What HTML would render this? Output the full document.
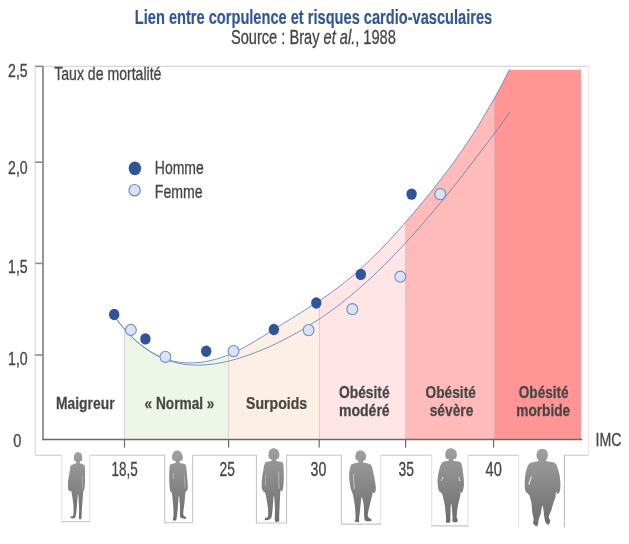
<!DOCTYPE html>
<html lang="fr"><head><meta charset="utf-8"><title>Lien entre corpulence et risques cardio-vasculaires</title>
<style>
html,body{margin:0;padding:0;background:#fff;}
body{width:629px;height:544px;overflow:hidden;}
svg{display:block;font-family:"Liberation Sans",Arial,sans-serif;}
</style></head><body>
<svg width="629" height="544" viewBox="0 0 629 544">
<defs>
<linearGradient id="gsil" x1="0" y1="0" x2="0" y2="1"><stop offset="0" stop-color="#a0a0a0"/><stop offset="1" stop-color="#6c6c6c"/></linearGradient>
<filter id="soft" x="0" y="0" width="629" height="544" filterUnits="userSpaceOnUse"><feGaussianBlur stdDeviation="0.6"/></filter>
</defs>
<rect width="629" height="544" fill="#fff"/>
<g filter="url(#soft)">
<text transform="translate(134.80,23.50) scale(0.7133,1)" font-size="20.5" font-weight="bold" fill="#31589B" stroke="#31589B" stroke-width="0.2">Lien entre corpulence et risques cardio-vasculaires</text>
<text transform="translate(230.90,43.70) scale(0.7465,1)" font-size="19.6" font-weight="normal" fill="#464646" stroke="#464646" stroke-width="0.32">Source : Bray <tspan font-style="italic">et al.</tspan>, 1988</text>
<line x1="35.2" y1="66.3" x2="588.5" y2="66.3" stroke="#cbcbcb" stroke-width="1.1"/>
<line x1="35.2" y1="455.3" x2="588.5" y2="455.3" stroke="#c6c6c6" stroke-width="1.1"/>
<line x1="35.2" y1="66.3" x2="35.2" y2="455.3" stroke="#dedede" stroke-width="1.3"/>
<line x1="588.5" y1="66.3" x2="588.5" y2="455.3" stroke="#e8e8e8" stroke-width="1.3"/>
<polygon points="124.4,439.5 124.4,328.8 127.1,331.8 129.7,334.6 132.4,337.3 135.1,339.9 137.7,342.3 140.4,344.5 143.1,346.6 145.8,348.5 148.4,350.4 151.1,352.0 153.8,353.6 156.4,355.0 159.1,356.3 161.8,357.4 164.4,358.5 167.1,359.4 169.8,360.2 172.4,360.9 175.1,361.5 177.8,362.0 180.5,362.3 183.1,362.6 185.8,362.8 188.5,362.9 191.1,362.9 193.8,362.8 196.5,362.7 199.1,362.4 201.8,362.1 204.5,361.7 207.1,361.3 209.8,360.7 212.5,360.1 215.2,359.4 217.8,358.6 220.5,357.8 223.2,356.9 225.8,355.9 228.5,354.8 228.5,439.5" fill="#EEF6E8"/>
<polygon points="228.5,439.5 228.5,354.8 230.8,353.9 233.2,352.8 235.5,351.8 237.8,350.7 240.2,349.5 242.5,348.3 244.8,347.0 247.2,345.7 249.5,344.4 251.8,343.0 254.2,341.7 256.5,340.3 258.8,338.8 261.2,337.4 263.5,335.9 265.8,334.5 268.2,333.0 270.5,331.5 272.8,330.0 275.2,328.6 277.5,327.1 279.8,325.7 282.2,324.2 284.5,322.8 286.8,321.4 289.2,319.9 291.5,318.5 293.8,317.0 296.2,315.6 298.5,314.2 300.8,312.7 303.2,311.2 305.5,309.8 307.8,308.3 310.2,306.8 312.5,305.3 314.8,303.7 317.2,302.2 319.5,300.6 319.5,439.5" fill="#FDEFE6"/>
<polygon points="319.5,439.5 319.5,300.6 321.7,299.2 323.9,297.6 326.1,296.1 328.3,294.6 330.5,293.0 332.7,291.4 335.0,289.8 337.2,288.1 339.4,286.5 341.6,284.8 343.8,283.0 346.0,281.3 348.2,279.5 350.4,277.7 352.6,275.8 354.8,274.0 357.0,272.0 359.2,270.1 361.4,268.1 363.7,266.1 365.9,264.0 368.1,262.0 370.3,259.8 372.5,257.7 374.7,255.5 376.9,253.3 379.1,251.1 381.3,248.8 383.5,246.5 385.7,244.2 387.9,241.9 390.1,239.5 392.4,237.1 394.6,234.7 396.8,232.3 399.0,229.8 401.2,227.3 403.4,224.8 405.6,222.3 405.6,439.5" fill="#FFE5E5"/>
<polygon points="405.6,439.5 405.6,222.3 407.9,219.7 410.1,217.0 412.4,214.4 414.7,211.7 417.0,209.0 419.2,206.3 421.5,203.6 423.8,200.8 426.0,198.0 428.3,195.2 430.6,192.4 432.9,189.6 435.1,186.7 437.4,183.8 439.7,180.9 441.9,178.0 444.2,175.0 446.5,172.0 448.8,168.9 451.0,165.9 453.3,162.7 455.6,159.6 457.9,156.4 460.1,153.2 462.4,149.9 464.7,146.5 466.9,143.2 469.2,139.8 471.5,136.3 473.8,132.8 476.0,129.2 478.3,125.6 480.6,121.9 482.8,118.1 485.1,114.3 487.4,110.5 489.7,106.6 491.9,102.6 494.2,98.5 494.2,439.5" fill="#FFBABA"/>
<polygon points="494.2,439.5 494.2,98.5 494.6,97.8 495.0,97.1 495.4,96.4 495.8,95.7 496.2,95.0 496.6,94.3 496.9,93.6 497.3,92.8 497.7,92.1 498.1,91.4 498.5,90.7 498.9,89.9 499.3,89.2 499.7,88.5 500.1,87.7 500.5,87.0 500.9,86.3 501.3,85.5 501.7,84.8 502.0,84.0 502.4,83.3 502.8,82.6 503.2,81.8 503.6,81.0 504.0,80.3 504.4,79.5 504.8,78.8 505.2,78.0 505.6,77.3 506.0,76.5 506.4,75.7 506.8,74.9 507.1,74.2 507.5,73.4 507.9,72.6 508.3,71.8 508.7,71.1 509.1,70.3 509.5,69.7 509.5,69.7 581.0,69.7 581.0,439.5" fill="#FF9595"/>
<line x1="124.4" y1="328.8" x2="124.4" y2="439.5" stroke="#d0d0d0" stroke-width="1"/>
<line x1="228.5" y1="354.8" x2="228.5" y2="439.5" stroke="#c9b8b8" stroke-opacity="0.7" stroke-width="0.8"/>
<line x1="319.5" y1="300.6" x2="319.5" y2="439.5" stroke="#c9b8b8" stroke-opacity="0.7" stroke-width="0.8"/>
<line x1="405.6" y1="222.3" x2="405.6" y2="439.5" stroke="#c9b8b8" stroke-opacity="0.7" stroke-width="0.8"/>
<line x1="494.2" y1="98.5" x2="494.2" y2="439.5" stroke="#c9b8b8" stroke-opacity="0.7" stroke-width="0.8"/>
<polyline points="116.5,318.9 119.8,323.2 123.1,327.3 126.4,331.1 129.7,334.6 133.0,337.9 136.3,341.0 139.6,343.9 142.9,346.5 146.2,348.9 149.5,351.1 152.8,353.0 156.1,354.8 159.4,356.4 162.7,357.8 166.0,359.0 169.3,360.1 172.6,360.9 175.9,361.6 179.2,362.2 182.6,362.6 185.9,362.8 189.2,362.9 192.5,362.9 195.8,362.7 199.1,362.5 202.4,362.0 205.7,361.5 209.0,360.9 212.3,360.1 215.6,359.3 218.9,358.3 222.2,357.2 225.5,356.0 228.8,354.7 232.1,353.3 235.4,351.8 238.7,350.2 242.0,348.5 245.3,346.8 248.6,344.9 251.9,343.0 255.2,341.0 258.5,339.0 261.8,337.0 265.1,334.9 268.4,332.8 271.7,330.7 275.0,328.7 278.3,326.6 281.6,324.6 284.9,322.5 288.2,320.5 291.5,318.5 294.8,316.4 298.1,314.4 301.4,312.3 304.7,310.2 308.0,308.1 311.3,306.0 314.7,303.9 318.0,301.7 321.3,299.5 324.6,297.2 327.9,294.9 331.2,292.5 334.5,290.1 337.8,287.7 341.1,285.2 344.4,282.6 347.7,279.9 351.0,277.2 354.3,274.4 357.6,271.6 360.9,268.6 364.2,265.6 367.5,262.5 370.8,259.3 374.1,256.1 377.4,252.8 380.7,249.5 384.0,246.0 387.3,242.6 390.6,239.0 393.9,235.4 397.2,231.8 400.5,228.1 403.8,224.3 407.1,220.5 410.4,216.7 413.7,212.8 417.0,208.9 420.3,205.0 423.6,201.0 426.9,196.9 430.2,192.9 433.5,188.7 436.8,184.6 440.1,180.3 443.4,176.0 446.8,171.6 450.1,167.2 453.4,162.7 456.7,158.1 460.0,153.4 463.3,148.6 466.6,143.7 469.9,138.7 473.2,133.7 476.5,128.5 479.8,123.2 483.1,117.7 486.4,112.2 489.7,106.5 493.0,100.7 496.3,94.8 499.6,88.7 502.9,82.4 506.2,76.0 509.5,69.5" fill="none" stroke="#6482B4" stroke-opacity="0.85" stroke-width="1.0"/>
<polyline points="116.5,319.5 119.8,323.7 123.1,327.6 126.4,331.3 129.7,334.8 133.0,338.1 136.3,341.1 139.6,343.9 142.9,346.5 146.3,348.9 149.6,351.2 152.9,353.2 156.2,355.1 159.5,356.7 162.8,358.2 166.1,359.6 169.4,360.8 172.7,361.8 176.0,362.7 179.3,363.4 182.6,364.0 185.9,364.5 189.2,364.8 192.5,365.0 195.8,365.1 199.1,365.1 202.5,365.0 205.8,364.8 209.1,364.5 212.4,364.2 215.7,363.7 219.0,363.1 222.3,362.5 225.6,361.8 228.9,361.0 232.2,360.2 235.5,359.3 238.8,358.3 242.1,357.2 245.4,356.1 248.7,355.0 252.0,353.8 255.3,352.5 258.7,351.2 262.0,349.9 265.3,348.5 268.6,347.1 271.9,345.6 275.2,344.0 278.5,342.4 281.8,340.8 285.1,339.1 288.4,337.4 291.7,335.6 295.0,333.8 298.3,332.0 301.6,330.1 304.9,328.1 308.2,326.1 311.5,324.0 314.9,321.9 318.2,319.8 321.5,317.6 324.8,315.3 328.1,313.0 331.4,310.6 334.7,308.2 338.0,305.7 341.3,303.1 344.6,300.6 347.9,297.9 351.2,295.2 354.5,292.4 357.8,289.6 361.1,286.7 364.4,283.8 367.7,280.8 371.1,277.8 374.4,274.7 377.7,271.5 381.0,268.3 384.3,265.1 387.6,261.7 390.9,258.4 394.2,255.0 397.5,251.5 400.8,248.0 404.1,244.5 407.4,240.9 410.7,237.2 414.0,233.5 417.3,229.8 420.6,226.1 423.9,222.3 427.3,218.4 430.6,214.5 433.9,210.6 437.2,206.7 440.5,202.7 443.8,198.7 447.1,194.6 450.4,190.5 453.7,186.4 457.0,182.3 460.3,178.1 463.6,173.9 466.9,169.7 470.2,165.4 473.5,161.1 476.8,156.8 480.1,152.4 483.5,148.0 486.8,143.6 490.1,139.2 493.4,134.8 496.7,130.3 500.0,125.8 503.3,121.3 506.6,116.7 509.9,112.2" fill="none" stroke="#6482B4" stroke-opacity="0.85" stroke-width="1.0"/>
<line x1="43.0" y1="66.3" x2="43.0" y2="440.2" stroke="#6a6a6a" stroke-width="1.4"/>
<line x1="42.3" y1="439.5" x2="582.3" y2="439.5" stroke="#6a6a6a" stroke-width="1.4"/>
<line x1="35.2" y1="66.4" x2="43.0" y2="66.4" stroke="#8c8c8c" stroke-width="1.6"/>
<line x1="35.2" y1="162.2" x2="43.0" y2="162.2" stroke="#8c8c8c" stroke-width="1.6"/>
<line x1="35.2" y1="263.4" x2="43.0" y2="263.4" stroke="#8c8c8c" stroke-width="1.6"/>
<line x1="35.2" y1="355.0" x2="43.0" y2="355.0" stroke="#8c8c8c" stroke-width="1.6"/>
<line x1="124.5" y1="439.5" x2="124.5" y2="447.6" stroke="#6a6a6a" stroke-width="1.2"/>
<line x1="228.6" y1="439.5" x2="228.6" y2="447.6" stroke="#6a6a6a" stroke-width="1.2"/>
<line x1="319.2" y1="439.5" x2="319.2" y2="447.6" stroke="#6a6a6a" stroke-width="1.2"/>
<line x1="405.6" y1="439.5" x2="405.6" y2="447.6" stroke="#6a6a6a" stroke-width="1.2"/>
<line x1="493.6" y1="439.5" x2="493.6" y2="447.6" stroke="#6a6a6a" stroke-width="1.2"/>
<text transform="translate(8.10,76.50) scale(0.7581,1)" font-size="18.6" font-weight="normal" fill="#464646" stroke="#464646" stroke-width="0.32">2,5</text>
<text transform="translate(8.10,173.90) scale(0.7581,1)" font-size="18.6" font-weight="normal" fill="#464646" stroke="#464646" stroke-width="0.32">2,0</text>
<text transform="translate(8.10,272.90) scale(0.7581,1)" font-size="18.6" font-weight="normal" fill="#464646" stroke="#464646" stroke-width="0.32">1,5</text>
<text transform="translate(8.10,365.30) scale(0.7581,1)" font-size="18.6" font-weight="normal" fill="#464646" stroke="#464646" stroke-width="0.32">1,0</text>
<text transform="translate(13.20,447.00) scale(0.7668,1)" font-size="19.0" font-weight="normal" fill="#464646" stroke="#464646" stroke-width="0.32">0</text>
<text transform="translate(54.20,79.80) scale(0.7409,1)" font-size="19.0" font-weight="normal" fill="#464646" stroke="#464646" stroke-width="0.32">Taux de mortalité</text>
<text transform="translate(595.60,446.20) scale(0.7465,1)" font-size="19.0" font-weight="normal" fill="#464646" stroke="#464646" stroke-width="0.32">IMC</text>
<ellipse cx="134.9" cy="168.3" rx="6.2" ry="6.9" fill="#2F5597"/>
<ellipse cx="134.6" cy="190.2" rx="5.6" ry="5.7" fill="#DAE3F3" stroke="#6C8CCB" stroke-width="1.2"/>
<text transform="translate(154.80,173.70) scale(0.7366,1)" font-size="19.0" font-weight="normal" fill="#464646" stroke="#464646" stroke-width="0.32">Homme</text>
<text transform="translate(154.80,197.60) scale(0.7852,1)" font-size="18.0" font-weight="normal" fill="#464646" stroke="#464646" stroke-width="0.32">Femme</text>
<ellipse cx="130.9" cy="330.0" rx="5.4" ry="5.6" fill="#DAE3F3" stroke="#6C8CCB" stroke-width="1.1"/>
<ellipse cx="165.4" cy="356.8" rx="5.4" ry="5.6" fill="#DAE3F3" stroke="#6C8CCB" stroke-width="1.1"/>
<ellipse cx="233.5" cy="351.1" rx="5.4" ry="5.6" fill="#DAE3F3" stroke="#6C8CCB" stroke-width="1.1"/>
<ellipse cx="308.6" cy="330.1" rx="5.4" ry="5.6" fill="#DAE3F3" stroke="#6C8CCB" stroke-width="1.1"/>
<ellipse cx="352.3" cy="309.2" rx="5.4" ry="5.6" fill="#DAE3F3" stroke="#6C8CCB" stroke-width="1.1"/>
<ellipse cx="400.3" cy="276.7" rx="5.4" ry="5.6" fill="#DAE3F3" stroke="#6C8CCB" stroke-width="1.1"/>
<ellipse cx="440.2" cy="194.2" rx="5.4" ry="5.6" fill="#DAE3F3" stroke="#6C8CCB" stroke-width="1.1"/>
<ellipse cx="114.2" cy="314.5" rx="5.2" ry="5.7" fill="#2F5597"/>
<ellipse cx="145.4" cy="338.9" rx="5.2" ry="5.7" fill="#2F5597"/>
<ellipse cx="206.2" cy="351.2" rx="5.2" ry="5.7" fill="#2F5597"/>
<ellipse cx="273.9" cy="329.5" rx="5.2" ry="5.7" fill="#2F5597"/>
<ellipse cx="316.3" cy="303.0" rx="5.2" ry="5.7" fill="#2F5597"/>
<ellipse cx="360.8" cy="274.4" rx="5.2" ry="5.7" fill="#2F5597"/>
<ellipse cx="411.6" cy="194.1" rx="5.2" ry="5.7" fill="#2F5597"/>
<text transform="translate(56.00,409.00) scale(0.8163,1)" font-size="17.0" font-weight="bold" fill="#464646" stroke="#464646" stroke-width="0.25">Maigreur</text>
<text transform="translate(144.60,409.00) scale(0.8042,1)" font-size="17.0" font-weight="bold" fill="#464646" stroke="#464646" stroke-width="0.25">« Normal »</text>
<text transform="translate(246.10,409.00) scale(0.8279,1)" font-size="17.0" font-weight="bold" fill="#464646" stroke="#464646" stroke-width="0.25">Surpoids</text>
<text transform="translate(338.90,398.30) scale(0.8147,1)" font-size="17.0" font-weight="bold" fill="#464646" stroke="#464646" stroke-width="0.25">Obésité</text>
<text transform="translate(338.90,416.30) scale(0.8273,1)" font-size="17.0" font-weight="bold" fill="#464646" stroke="#464646" stroke-width="0.25">modéré</text>
<text transform="translate(425.50,398.30) scale(0.8083,1)" font-size="17.0" font-weight="bold" fill="#464646" stroke="#464646" stroke-width="0.25">Obésité</text>
<text transform="translate(429.70,416.30) scale(0.8109,1)" font-size="17.0" font-weight="bold" fill="#464646" stroke="#464646" stroke-width="0.25">sévère</text>
<text transform="translate(518.80,398.30) scale(0.7986,1)" font-size="17.0" font-weight="bold" fill="#464646" stroke="#464646" stroke-width="0.25">Obésité</text>
<text transform="translate(516.30,416.30) scale(0.8022,1)" font-size="17.0" font-weight="bold" fill="#464646" stroke="#464646" stroke-width="0.25">morbide</text>
<rect x="61.9" y="453.8" width="27.800000000000004" height="67.80000000000001" fill="#fff"/>
<line x1="61.9" y1="454.8" x2="61.9" y2="521.6" stroke="#e4e4e4" stroke-width="1.1"/>
<line x1="89.7" y1="454.8" x2="89.7" y2="521.6" stroke="#e4e4e4" stroke-width="1.1"/>
<line x1="61.4" y1="521.6" x2="90.2" y2="521.6" stroke="#c6c6c6" stroke-width="1.1"/>
<rect x="164.6" y="453.8" width="28.0" height="68.90000000000003" fill="#fff"/>
<line x1="164.6" y1="454.8" x2="164.6" y2="522.7" stroke="#c6c6c6" stroke-width="1.1"/>
<line x1="192.6" y1="454.8" x2="192.6" y2="522.7" stroke="#c6c6c6" stroke-width="1.1"/>
<line x1="164.1" y1="522.7" x2="193.1" y2="522.7" stroke="#c6c6c6" stroke-width="1.1"/>
<rect x="256.4" y="453.8" width="30.200000000000045" height="69.19999999999999" fill="#fff"/>
<line x1="256.4" y1="454.8" x2="256.4" y2="523.0" stroke="#c6c6c6" stroke-width="1.1"/>
<line x1="286.6" y1="454.8" x2="286.6" y2="523.0" stroke="#c6c6c6" stroke-width="1.1"/>
<line x1="255.89999999999998" y1="523.0" x2="287.1" y2="523.0" stroke="#c6c6c6" stroke-width="1.1"/>
<rect x="341.3" y="453.8" width="39.30000000000001" height="70.30000000000001" fill="#fff"/>
<line x1="341.3" y1="454.8" x2="341.3" y2="524.1" stroke="#c6c6c6" stroke-width="1.1"/>
<line x1="380.6" y1="454.8" x2="380.6" y2="524.1" stroke="#e4e4e4" stroke-width="1.1"/>
<line x1="340.8" y1="524.1" x2="381.1" y2="524.1" stroke="#c6c6c6" stroke-width="1.1"/>
<rect x="431.7" y="453.8" width="36.30000000000001" height="72.09999999999997" fill="#fff"/>
<line x1="431.7" y1="454.8" x2="431.7" y2="525.9" stroke="#e4e4e4" stroke-width="1.1"/>
<line x1="468.0" y1="454.8" x2="468.0" y2="525.9" stroke="#e4e4e4" stroke-width="1.1"/>
<line x1="431.2" y1="525.9" x2="468.5" y2="525.9" stroke="#c6c6c6" stroke-width="1.1"/>
<rect x="518.6" y="453.8" width="45.799999999999955" height="73.19999999999999" fill="#fff"/>
<line x1="518.6" y1="454.8" x2="518.6" y2="527.0" stroke="#e4e4e4" stroke-width="1.1"/>
<line x1="564.4" y1="454.8" x2="564.4" y2="527.0" stroke="#bdbdbd" stroke-width="1.1"/>
<text transform="translate(111.50,476.30) scale(0.6732,1)" font-size="20.0" font-weight="normal" fill="#464646" stroke="#464646" stroke-width="0.32">18,5</text>
<text transform="translate(219.60,476.30) scale(0.6879,1)" font-size="20.0" font-weight="normal" fill="#464646" stroke="#464646" stroke-width="0.32">25</text>
<text transform="translate(310.50,476.30) scale(0.7104,1)" font-size="20.0" font-weight="normal" fill="#464646" stroke="#464646" stroke-width="0.32">30</text>
<text transform="translate(398.60,476.30) scale(0.6924,1)" font-size="20.0" font-weight="normal" fill="#464646" stroke="#464646" stroke-width="0.32">35</text>
<text transform="translate(485.50,476.30) scale(0.7329,1)" font-size="20.0" font-weight="normal" fill="#464646" stroke="#464646" stroke-width="0.32">40</text>
<g transform="translate(56,446) scale(0.14706)"><path d="M150.0,42.0C156.7,42.0 165.3,44.5 170.0,50.0C174.7,55.5 177.0,67.0 178.0,75.0C179.0,83.0 178.2,93.2 176.0,98.0C173.8,102.8 167.2,100.7 165.0,104.0C162.8,107.3 159.7,114.3 163.0,118.0C166.3,121.7 179.5,122.3 185.0,126.0C190.5,129.7 193.8,122.7 196.0,140.0C198.2,157.3 198.3,205.8 198.0,230.0C197.7,254.2 195.7,272.3 194.0,285.0C192.3,297.7 189.5,301.5 188.0,306.0C186.5,310.5 186.3,299.7 185.0,312.0C183.7,324.3 181.7,358.7 180.0,380.0C178.3,401.3 176.2,421.7 175.0,440.0C173.8,458.3 174.7,480.3 173.0,490.0C171.3,499.7 167.7,497.7 165.0,498.0C162.3,498.3 158.3,505.0 157.0,492.0C155.7,479.0 158.2,447.8 157.0,420.0C155.8,392.2 152.3,328.3 150.0,325.0C147.7,321.7 145.3,376.7 143.0,400.0C140.7,423.3 139.0,450.0 136.0,465.0C133.0,480.0 131.0,485.8 125.0,490.0C119.0,494.2 104.2,491.3 100.0,490.0C95.8,488.7 97.0,485.3 100.0,482.0C103.0,478.7 115.0,483.7 118.0,470.0C121.0,456.3 119.7,423.3 118.0,400.0C116.3,376.7 110.5,345.8 108.0,330.0C105.5,314.2 105.7,308.7 103.0,305.0C100.3,301.3 95.5,311.3 92.0,308.0C88.5,304.7 83.7,296.3 82.0,285.0C80.3,273.7 80.3,257.5 82.0,240.0C83.7,222.5 89.0,197.5 92.0,180.0C95.0,162.5 96.2,144.2 100.0,135.0C103.8,125.8 108.8,127.8 115.0,125.0C121.2,122.2 133.7,121.5 137.0,118.0C140.3,114.5 137.2,107.3 135.0,104.0C132.8,100.7 126.2,102.8 124.0,98.0C121.8,93.2 121.0,83.0 122.0,75.0C123.0,67.0 125.3,55.5 130.0,50.0C134.7,44.5 143.3,42.0 150.0,42.0Z" fill="url(#gsil)"/>
<polygon points="176,205 180,205 181,288 177,290" fill="#fff" fill-opacity="0.5"/>
</g>
<g transform="translate(158,446) scale(0.14706)"><path d="M130.0,30.0C137.8,30.0 148.7,33.7 155.0,40.0C161.3,46.3 166.3,58.8 168.0,68.0C169.7,77.2 168.0,89.3 165.0,95.0C162.0,100.7 152.5,98.5 150.0,102.0C147.5,105.5 145.3,112.7 150.0,116.0C154.7,119.3 171.3,118.8 178.0,122.0C184.7,125.2 186.7,122.0 190.0,135.0C193.3,148.0 195.8,177.5 198.0,200.0C200.2,222.5 202.7,253.3 203.0,270.0C203.3,286.7 201.7,293.7 200.0,300.0C198.3,306.3 195.2,305.5 193.0,308.0C190.8,310.5 189.2,301.3 187.0,315.0C184.8,328.7 182.5,367.5 180.0,390.0C177.5,412.5 172.7,435.8 172.0,450.0C171.3,464.2 172.7,468.7 176.0,475.0C179.3,481.3 190.5,484.5 192.0,488.0C193.5,491.5 190.3,495.7 185.0,496.0C179.7,496.3 165.8,493.0 160.0,490.0C154.2,487.0 151.7,489.7 150.0,478.0C148.3,466.3 151.3,443.8 150.0,420.0C148.7,396.2 144.5,335.0 142.0,335.0C139.5,335.0 137.3,395.8 135.0,420.0C132.7,444.2 130.2,465.8 128.0,480.0C125.8,494.2 126.3,501.2 122.0,505.0C117.7,508.8 104.7,508.8 102.0,503.0C99.3,497.2 105.8,487.2 106.0,470.0C106.2,452.8 104.8,424.2 103.0,400.0C101.2,375.8 97.5,339.7 95.0,325.0C92.5,310.3 90.5,317.8 88.0,312.0C85.5,306.2 82.0,307.0 80.0,290.0C78.0,273.0 76.0,235.8 76.0,210.0C76.0,184.2 77.3,149.5 80.0,135.0C82.7,120.5 85.7,126.2 92.0,123.0C98.3,119.8 113.7,119.5 118.0,116.0C122.3,112.5 121.0,105.5 118.0,102.0C115.0,98.5 103.8,100.7 100.0,95.0C96.2,89.3 93.7,77.2 95.0,68.0C96.3,58.8 102.2,46.3 108.0,40.0C113.8,33.7 122.2,30.0 130.0,30.0Z" fill="url(#gsil)"/>
<polygon points="104,185 109,185 108,222 103,222" fill="#fff" fill-opacity="0.5"/>
<polygon points="178,200 182,200 186,285 182,287" fill="#fff" fill-opacity="0.5"/>
</g>
<g transform="translate(250,444) scale(0.15442)"><path d="M152.0,28.0C160.0,28.0 171.7,31.8 178.0,38.0C184.3,44.2 188.7,56.0 190.0,65.0C191.3,74.0 189.0,86.5 186.0,92.0C183.0,97.5 174.3,95.0 172.0,98.0C169.7,101.0 167.3,107.2 172.0,110.0C176.7,112.8 192.8,112.0 200.0,115.0C207.2,118.0 211.8,110.5 215.0,128.0C218.2,145.5 219.2,193.8 219.0,220.0C218.8,246.2 216.3,270.5 214.0,285.0C211.7,299.5 207.8,304.5 205.0,307.0C202.2,309.5 198.5,297.8 197.0,300.0C195.5,302.2 196.8,303.3 196.0,320.0C195.2,336.7 193.2,375.0 192.0,400.0C190.8,425.0 189.7,453.7 189.0,470.0C188.3,486.3 192.5,493.3 188.0,498.0C183.5,502.7 166.3,511.0 162.0,498.0C157.7,485.0 163.2,447.2 162.0,420.0C160.8,392.8 157.3,338.3 155.0,335.0C152.7,331.7 150.3,378.3 148.0,400.0C145.7,421.7 144.3,450.3 141.0,465.0C137.7,479.7 134.8,483.3 128.0,488.0C121.2,492.7 105.2,494.2 100.0,493.0C94.8,491.8 94.2,485.5 97.0,481.0C99.8,476.5 114.2,479.5 117.0,466.0C119.8,452.5 116.8,424.0 114.0,400.0C111.2,376.0 104.7,337.7 100.0,322.0C95.3,306.3 90.0,312.7 86.0,306.0C82.0,299.3 77.3,296.3 76.0,282.0C74.7,267.7 76.0,240.3 78.0,220.0C80.0,199.7 85.0,175.7 88.0,160.0C91.0,144.3 92.3,133.5 96.0,126.0C99.7,118.5 103.0,117.7 110.0,115.0C117.0,112.3 133.3,112.8 138.0,110.0C142.7,107.2 140.3,101.0 138.0,98.0C135.7,95.0 127.0,97.5 124.0,92.0C121.0,86.5 119.0,74.0 120.0,65.0C121.0,56.0 124.7,44.2 130.0,38.0C135.3,31.8 144.0,28.0 152.0,28.0Z" fill="url(#gsil)"/>
<polygon points="183,178 188,178 191,287 185,289" fill="#fff" fill-opacity="0.5"/>
<polygon points="100,200 104,200 101,270 97,270" fill="#fff" fill-opacity="0.5"/>
</g>
<g transform="translate(336,444) scale(0.15432)"><path d="M158.0,42.0C165.7,42.0 175.8,44.3 182.0,50.0C188.2,55.7 193.7,67.3 195.0,76.0C196.3,84.7 192.8,96.7 190.0,102.0C187.2,107.3 180.0,105.0 178.0,108.0C176.0,111.0 172.3,116.7 178.0,120.0C183.7,123.3 203.0,123.8 212.0,128.0C221.0,132.2 226.0,130.5 232.0,145.0C238.0,159.5 243.7,191.7 248.0,215.0C252.3,238.3 257.7,267.8 258.0,285.0C258.3,302.2 253.3,313.0 250.0,318.0C246.7,323.0 240.7,312.2 238.0,315.0C235.3,317.8 237.3,320.8 234.0,335.0C230.7,349.2 222.7,378.3 218.0,400.0C213.3,421.7 204.0,450.0 206.0,465.0C208.0,480.0 226.8,484.2 230.0,490.0C233.2,495.8 231.7,498.8 225.0,500.0C218.3,501.2 197.0,502.0 190.0,497.0C183.0,492.0 184.7,486.2 183.0,470.0C181.3,453.8 182.7,420.8 180.0,400.0C177.3,379.2 170.7,343.3 167.0,345.0C163.3,346.7 160.8,387.5 158.0,410.0C155.2,432.5 151.7,464.2 150.0,480.0C148.3,495.8 152.7,501.2 148.0,505.0C143.3,508.8 125.5,507.5 122.0,503.0C118.5,498.5 127.0,495.2 127.0,478.0C127.0,460.8 124.8,424.7 122.0,400.0C119.2,375.3 112.8,344.0 110.0,330.0C107.2,316.0 108.0,325.7 105.0,316.0C102.0,306.3 95.3,291.3 92.0,272.0C88.7,252.7 84.5,221.7 85.0,200.0C85.5,178.3 90.5,154.0 95.0,142.0C99.5,130.0 104.0,131.7 112.0,128.0C120.0,124.3 137.8,123.3 143.0,120.0C148.2,116.7 145.2,111.0 143.0,108.0C140.8,105.0 133.0,107.3 130.0,102.0C127.0,96.7 124.0,84.7 125.0,76.0C126.0,67.3 130.5,55.7 136.0,50.0C141.5,44.3 150.3,42.0 158.0,42.0Z" fill="url(#gsil)"/>
<polygon points="109,195 115,195 123,288 115,292" fill="#fff" fill-opacity="0.5"/>
</g>
<g transform="translate(426,444) scale(0.15432)"><path d="M160.0,28.0C168.8,28.0 181.3,31.8 188.0,38.0C194.7,44.2 198.8,56.0 200.0,65.0C201.2,74.0 198.3,86.5 195.0,92.0C191.7,97.5 182.5,95.3 180.0,98.0C177.5,100.7 175.0,105.5 180.0,108.0C185.0,110.5 201.7,109.7 210.0,113.0C218.3,116.3 224.7,113.5 230.0,128.0C235.3,142.5 239.3,178.0 242.0,200.0C244.7,222.0 246.3,243.3 246.0,260.0C245.7,276.7 242.3,290.3 240.0,300.0C237.7,309.7 234.7,316.0 232.0,318.0C229.3,320.0 225.7,309.2 224.0,312.0C222.3,314.8 224.8,320.3 222.0,335.0C219.2,349.7 210.8,377.5 207.0,400.0C203.2,422.5 199.2,454.2 199.0,470.0C198.8,485.8 206.7,488.8 206.0,495.0C205.3,501.2 200.7,505.7 195.0,507.0C189.3,508.3 175.8,509.2 172.0,503.0C168.2,496.8 173.0,487.2 172.0,470.0C171.0,452.8 167.5,413.0 166.0,400.0C164.5,387.0 164.0,392.0 163.0,392.0C162.0,392.0 160.8,385.3 160.0,400.0C159.2,414.7 158.7,462.2 158.0,480.0C157.3,497.8 160.7,502.3 156.0,507.0C151.3,511.7 134.3,512.5 130.0,508.0C125.7,503.5 131.3,498.0 130.0,480.0C128.7,462.0 125.7,424.2 122.0,400.0C118.3,375.8 111.7,348.7 108.0,335.0C104.3,321.3 104.3,323.8 100.0,318.0C95.7,312.2 86.2,313.8 82.0,300.0C77.8,286.2 74.5,256.7 75.0,235.0C75.5,213.3 80.8,188.0 85.0,170.0C89.2,152.0 94.5,136.5 100.0,127.0C105.5,117.5 110.5,116.2 118.0,113.0C125.5,109.8 140.5,110.5 145.0,108.0C149.5,105.5 147.5,100.7 145.0,98.0C142.5,95.3 133.3,97.5 130.0,92.0C126.7,86.5 124.2,74.0 125.0,65.0C125.8,56.0 129.2,44.2 135.0,38.0C140.8,31.8 151.2,28.0 160.0,28.0Z" fill="url(#gsil)"/>
<polygon points="108,212 112,214 103,240 98,238" fill="#fff" fill-opacity="0.9"/>
<polygon points="210,213 214,212 222,240 217,242" fill="#fff" fill-opacity="0.9"/>
</g>
<g transform="translate(512,444) scale(0.16529)"><path d="M183.0,30.0C191.0,30.0 201.3,32.7 207.0,38.0C212.7,43.3 216.0,53.7 217.0,62.0C218.0,70.3 214.8,82.0 213.0,88.0C211.2,94.0 206.2,95.3 206.0,98.0C205.8,100.7 205.0,102.0 212.0,104.0C219.0,106.0 238.7,106.3 248.0,110.0C257.3,113.7 261.7,114.3 268.0,126.0C274.3,137.7 281.8,161.0 286.0,180.0C290.2,199.0 292.3,223.0 293.0,240.0C293.7,257.0 292.5,271.7 290.0,282.0C287.5,292.3 281.8,300.3 278.0,302.0C274.2,303.7 269.5,288.7 267.0,292.0C264.5,295.3 265.5,312.0 263.0,322.0C260.5,332.0 256.5,338.2 252.0,352.0C247.5,365.8 241.0,390.3 236.0,405.0C231.0,419.7 222.7,429.5 222.0,440.0C221.3,450.5 232.7,460.0 232.0,468.0C231.3,476.0 222.8,487.0 218.0,488.0C213.2,489.0 206.7,481.2 203.0,474.0C199.3,466.8 198.3,459.3 196.0,445.0C193.7,430.7 191.3,399.5 189.0,388.0C186.7,376.5 184.5,370.7 182.0,376.0C179.5,381.3 177.3,406.8 174.0,420.0C170.7,433.2 164.7,444.7 162.0,455.0C159.3,465.3 160.3,474.8 158.0,482.0C155.7,489.2 153.0,498.3 148.0,498.0C143.0,497.7 130.8,487.2 128.0,480.0C125.2,472.8 131.8,465.8 131.0,455.0C130.2,444.2 125.5,432.5 123.0,415.0C120.5,397.5 119.2,367.5 116.0,350.0C112.8,332.5 109.7,320.8 104.0,310.0C98.3,299.2 86.5,296.7 82.0,285.0C77.5,273.3 77.3,255.8 77.0,240.0C76.7,224.2 77.2,207.0 80.0,190.0C82.8,173.0 88.7,150.7 94.0,138.0C99.3,125.3 101.7,119.7 112.0,114.0C122.3,108.3 148.2,107.0 156.0,104.0C163.8,101.0 159.8,99.2 159.0,96.0C158.2,92.8 152.7,91.0 151.0,85.0C149.3,79.0 147.7,67.8 149.0,60.0C150.3,52.2 153.3,43.0 159.0,38.0C164.7,33.0 175.0,30.0 183.0,30.0Z" fill="url(#gsil)"/>
<polygon points="116,195 121,197 104,246 98,244" fill="#fff" fill-opacity="0.9"/>
</g>
</g></svg></body></html>
